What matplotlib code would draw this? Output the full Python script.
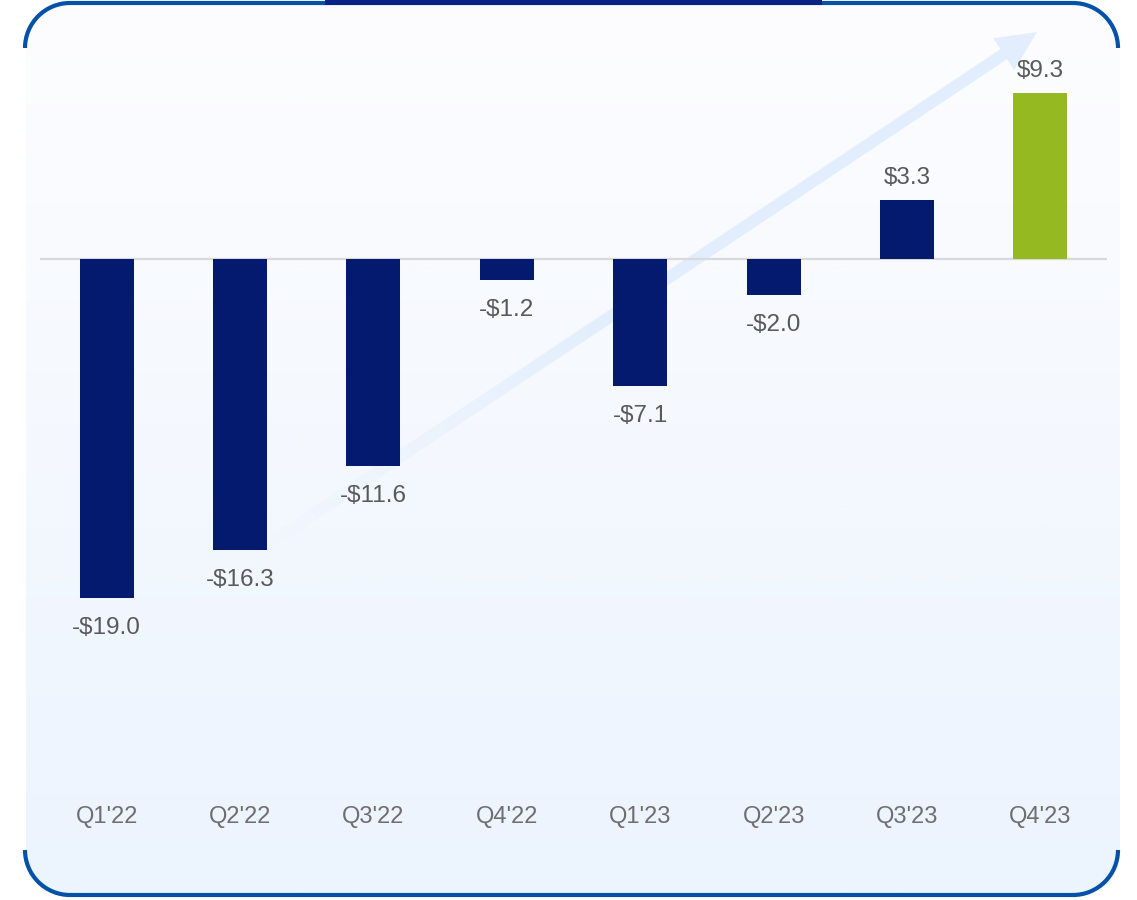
import matplotlib
matplotlib.use("Agg")
import matplotlib.pyplot as plt
import numpy as np
from matplotlib.patches import FancyBboxPatch, Arc, Rectangle, Polygon
from matplotlib.lines import Line2D

plt.rcParams['font.family'] = ['Liberation Sans', 'DejaVu Sans']

quarters = ["Q1'22", "Q2'22", "Q3'22", "Q4'22", "Q1'23", "Q2'23", "Q3'23", "Q4'23"]
values = [-19.0, -16.3, -11.6, -1.2, -7.1, -2.0, 3.3, 9.3]
labels = ["-$19.0", "-$16.3", "-$11.6", "-$1.2", "-$7.1", "-$2.0", "$3.3", "$9.3"]

navy = '#041a6e'
green = '#95b921'
border = '#0352a8'

W, H = 1137, 900
fig = plt.figure(figsize=(W / 100, H / 100), dpi=100)

# background / decoration axes in pixel coords
bg = fig.add_axes([0, 0, 1, 1])
bg.set_xlim(0, W)
bg.set_ylim(H, 0)
bg.axis('off')

# gradient panel clipped to rounded box
panel = FancyBboxPatch((26, 4), 1094, 890, boxstyle="round,pad=0,rounding_size=45",
                       facecolor='none', edgecolor='none')
bg.add_patch(panel)
top_c = np.array([253, 253, 254]) / 255
bot_c = np.array([236, 244, 254]) / 255
t = np.linspace(0, 1, 256)[:, None]
grad = top_c[None, :] * (1 - t) + bot_c[None, :] * t
img = bg.imshow(grad[:, None, :].repeat(2, axis=1), extent=(26, 1120, 894, 4),
                aspect='auto', zorder=0, interpolation='bilinear')
img.set_clip_path(panel)

# border: arcs at corners, straight top and bottom
r = 45
lw = 3.0
x0, x1, y0, y1 = 25, 1118, 3, 895
bg.add_line(Line2D([x0 + r, x1 - r], [y0, y0], color=border, lw=lw, solid_capstyle='butt'))
bg.add_line(Line2D([x0 + r, x1 - r], [y1, y1], color=border, lw=lw, solid_capstyle='butt'))
# y axis inverted: angles flip
bg.add_patch(Arc((x0 + r, y0 + r), 2 * r, 2 * r, theta1=180, theta2=270, color=border, lw=lw))
bg.add_patch(Arc((x1 - r, y0 + r), 2 * r, 2 * r, theta1=270, theta2=360, color=border, lw=lw))
bg.add_patch(Arc((x0 + r, y1 - r), 2 * r, 2 * r, theta1=90, theta2=180, color=border, lw=lw))
bg.add_patch(Arc((x1 - r, y1 - r), 2 * r, 2 * r, theta1=0, theta2=90, color=border, lw=lw))
bg.add_patch(Rectangle((325, 0), 497, 4.5, facecolor='#0a2283', edgecolor='none', zorder=4))

# trend arrow with fading tail
tail = np.array([272.0, 542.0])
tip = np.array([1037.0, 32.0])
d = tip - tail
L = np.hypot(*d)
u = d / L
n = np.array([-u[1], u[0]])
shaft_w, head_w, head_l = 12, 38, 40
hb = tip - u * head_l
pts = [tail + n * shaft_w / 2, hb + n * shaft_w / 2, hb + n * head_w / 2, tip,
       hb - n * head_w / 2, hb - n * shaft_w / 2, tail - n * shaft_w / 2]
arrow = Polygon(pts, closed=True, facecolor='none', edgecolor='none')
bg.add_patch(arrow)
xx, yy = np.meshgrid(np.arange(0, W, 2), np.arange(0, H, 2))
proj = ((xx - tail[0]) * u[0] + (yy - tail[1]) * u[1]) / L
alpha = np.clip(proj / 0.45, 0, 1)
rgba = np.zeros(xx.shape + (4,))
rgba[..., 0], rgba[..., 1], rgba[..., 2] = 226 / 255, 238 / 255, 253 / 255
rgba[..., 3] = alpha
aimg = bg.imshow(rgba, extent=(0, W, H, 0), aspect='auto', zorder=1)
aimg.set_clip_path(arrow)

# bar axes
zero_px = 259
ppu = 17.85
top_px, bot_px = 20, 880
ax = fig.add_axes([40 / W, 1 - bot_px / H, (1107 - 40) / W, (bot_px - top_px) / H])
ax.patch.set_alpha(0)
ax.set_xlim(-0.5, 7.5)
ax.set_ylim(-(bot_px - zero_px) / ppu, (zero_px - top_px) / ppu)
ax.axis('off')

x = np.arange(len(quarters))
colors = [navy] * 7 + [green]
ax.bar(x, values, width=0.405, color=colors, zorder=3)
ax.axhline(0, color='#d9d9d9', lw=1.6, zorder=2)

for i, (v, lab) in enumerate(zip(values, labels)):
    off = 16 if v > 0 else -21.5
    ax.annotate(lab, (i, v), xytext=(0, off), textcoords='offset points',
                ha='center', va='center', fontsize=17.5, color='#595959')

cat_y = -(817 - zero_px) / ppu
for i, q in enumerate(quarters):
    ax.text(i, cat_y, q, ha='center', va='center', fontsize=17, color='#6e6e6e')

fig.savefig('out.png', dpi=100)
